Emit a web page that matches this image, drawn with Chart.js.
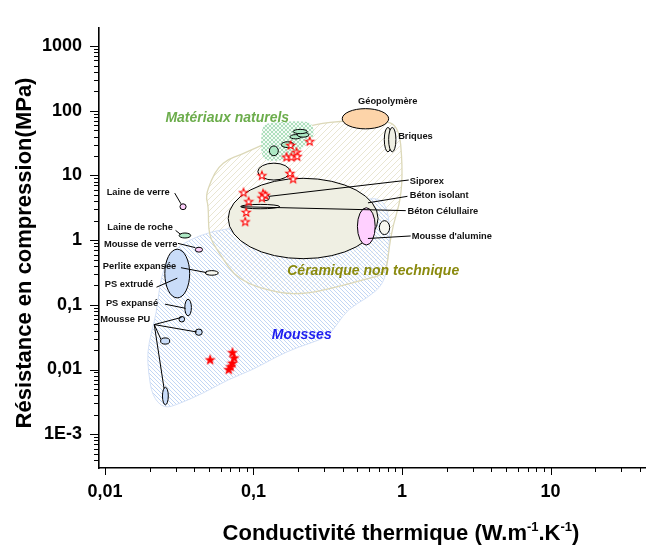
<!DOCTYPE html>
<html>
<head>
<meta charset="utf-8">
<script src="https://cdn.jsdelivr.net/npm/chart.js@4.4.0/dist/chart.umd.min.js"></script>
<style>
  html, body { margin: 0; padding: 0; background: #fff; }
</style>
</head>
<body>
<canvas id="ashby" width="653" height="545"></canvas>
<script>
// Axis ranges and tick labels
const xRange = [0.00912, 43.5];
const yRange = [0.00031, 1920];
const xMajor = [0.01, 0.1, 1, 10];
const xMajorLabels = ['0,01', '0,1', '1', '10'];
const yMajor = [0.001, 0.01, 0.1, 1, 10, 100, 1000];
const yMajorLabels = ['1E-3', '0,01', '0,1', '1', '10', '100', '1000'];

// Material families: conductivity (W/m.K) / strength (MPa) outlines
const ceramicK = [0.112, 0.0825, 0.0676, 0.058, 0.0521, 0.0476, 0.0498, 0.0498, 0.058, 0.0788, 0.152, 0.23, 0.363, 0.575, 0.78, 0.818, 0.869, 0.982, 1.01, 0.952, 0.67, 0.423, 0.256, 0.197, 0.157];
const ceramicS = [28.9, 21.1, 17.8, 13.5, 8.58, 4.76, 3.37, 1.19, 0.66, 0.233, 0.149, 0.149, 0.189, 0.25, 0.297, 0.758, 1.68, 4.29, 13.5, 64.2, 68.8, 71.2, 62.0, 50.3, 40.9];
const foamK = [0.025, 0.0208, 0.0196, 0.0193, 0.0205, 0.0222, 0.0232, 0.025, 0.0292, 0.0367, 0.0521, 0.0788, 0.197, 0.423, 0.593, 0.723, 0.805, 0.83, 0.805, 0.757, 0.575, 0.437, 0.363, 0.312, 0.197, 0.145, 0.0991, 0.0676, 0.0461, 0.0315];
const foamS = [0.00248, 0.0039, 0.00927, 0.0185, 0.0371, 0.0742, 0.177, 0.392, 0.707, 1.0, 1.37, 1.57, 2.0, 3.37, 4.44, 4.29, 2.83, 1.19, 0.5, 0.21, 0.125, 0.0883, 0.049, 0.0312, 0.022, 0.0161, 0.00993, 0.00702, 0.00432, 0.00295];
const naturalK = [0.121, 0.169, 0.23, 0.252, 0.256, 0.23, 0.191, 0.164, 0.125, 0.114, 0.112, 0.114];
const naturalS = [64.2, 68.8, 68.8, 59.9, 40.9, 29.9, 21.9, 17.2, 16.6, 19.1, 32.1, 53.9];

// Individual materials: property ranges
const matNames = ['Géopolymère', 'Briques', 'Briques', 'Béton isolant', 'Béton', "Mousse d'alumine", 'Céramique', 'Béton Célullaire', 'Siporex',
  'Bois', 'Bois', 'Bois', 'Bois', 'Bois',
  'Laine de verre', 'Laine de roche', 'Mousse de verre', 'PS extrudé', 'Perlite expansée', 'PS expansé',
  'Mousse PU', 'Mousse PU', 'Mousse PU', 'Mousse PU'];
const kMin = [0.396, 0.760, 0.813, 0.0676, 0.107, 0.501, 0.704, 0.082, 0.1154, 0.128, 0.154, 0.176, 0.197, 0.185, 0.032, 0.0316, 0.0406, 0.0253, 0.0473, 0.0345, 0.0315, 0.0406, 0.0237, 0.0244];
const kMax = [0.813, 0.851, 0.910, 0.690, 0.176, 0.660, 0.826, 0.150, 0.128, 0.147, 0.187, 0.210, 0.236, 0.230, 0.0352, 0.0378, 0.0454, 0.0372, 0.058, 0.0382, 0.0344, 0.0452, 0.0273, 0.0267];
const sMin = [52.6, 23.2, 23.2, 0.517, 8.5, 0.841, 1.22, 3.06, 4.10, 20.2, 27.0, 36.8, 39.1, 44.3, 2.96, 1.08, 0.653, 0.128, 0.287, 0.0676, 0.0543, 0.0338, 0.0247, 0.00285];
const sMax = [108, 55.3, 55.3, 9.04, 15.5, 3.17, 2.0, 3.57, 5.05, 28.6, 33.2, 42.8, 46.5, 51.6, 3.65, 1.29, 0.776, 0.724, 0.338, 0.122, 0.0662, 0.0422, 0.0308, 0.00532];

// Measured samples
const sampleK = [0.178, 0.239, 0.195, 0.167, 0.180, 0.197, 0.114, 0.176, 0.185, 0.0857, 0.116, 0.120, 0.114, 0.0928, 0.0894, 0.088];
const sampleS = [29.6, 34.0, 23.2, 19.5, 19.5, 19.9, 10.1, 10.9, 8.95, 5.5, 5.28, 5.01, 4.55, 4.0, 2.73, 1.95];
const foamSampleK = [0.0511, 0.0722, 0.0741, 0.0722, 0.0702, 0.0681];
const foamSampleS = [0.0143, 0.0185, 0.0153, 0.0127, 0.0112, 0.0101];

const FONT = '"Liberation Sans", Arial, Helvetica, sans-serif';

const cream = '#efefe3', blue = '#c9dcf8', pink = '#fdd0fb', green = '#ade8c4', pale = '#f7f7f0';
const matFill = ['#fdd4a9', cream, cream, cream, cream, '#ffd0ff', pale, pale, pale,
  green, green, green, green, green,
  pink, green, pink, blue, pale, blue, blue, blue, blue, blue];

// callouts: [text, k, s, align]
const callouts = [
  ['Laine de verre', 0.0273, 5.53, 'right'],
  ['Laine de roche', 0.0287, 1.586, 'right'],
  ['Mousse de verre', 0.0307, 0.87, 'right'],
  ['Perlite expansée', 0.0302, 0.396, 'right'],
  ['PS extrudé', 0.0212, 0.205, 'right'],
  ['PS expansé', 0.0228, 0.105, 'right'],
  ['Mousse PU', 0.0202, 0.0588, 'right'],
  ['Géopolymère', 0.801, 139, 'center'],
  ['Briques', 0.942, 39.5, 'left'],
  ['Siporex', 1.127, 8.01, 'left'],
  ['Béton isolant', 1.127, 4.98, 'left'],
  ['Béton Célullaire', 1.088, 2.763, 'left'],
  ["Mousse d'alumine", 1.162, 1.161, 'left']
];
const leaders = [
  [0.0295, 5.34, 0.0325, 3.645],
  [0.0299, 1.415, 0.0323, 1.231],
  [0.0310, 0.892, 0.0406, 0.766],
  [0.0325, 0.375, 0.0483, 0.315],
  [0.02225, 0.1873, 0.0307, 0.2586],
  [0.0254, 0.1024, 0.0349, 0.0883],
  [0.02148, 0.04945, 0.0328, 0.0639],
  [0.02148, 0.04945, 0.0416, 0.0380],
  [0.02148, 0.04945, 0.0238, 0.0294],
  [0.02148, 0.04945, 0.0250, 0.00509],
  [0.1279, 4.76, 1.110, 8.5],
  [0.590, 3.775, 1.088, 4.76],
  [0.0829, 3.287, 1.06, 2.86],
  [0.590, 1.061, 1.144, 1.161]
];
const familyTitles = [
  ['Matériaux naturels', 0.0666, 76.3, '#6cad4c'],
  ['Céramique non technique', 0.64, 0.33, '#8a8a0e'],
  ['Mousses', 0.2113, 0.0334, '#1e1ef0']
];

function logTicks(lo, hi) {
  const out = [];
  for (let e = Math.floor(Math.log10(lo)); e <= Math.ceil(Math.log10(hi)); e++) {
    for (let m = 1; m < 10; m++) {
      const v = m * Math.pow(10, e);
      if (v >= lo && v <= hi) out.push(v);
    }
  }
  return out;
}
const isDecade = v => Math.abs(Math.log10(v) - Math.round(Math.log10(v))) < 1e-6;
function labelFor(v, majors, labels) {
  const i = majors.findIndex(m => Math.abs(Math.log10(m) - Math.log10(v)) < 1e-6);
  return i < 0 ? '' : labels[i];
}

function makeStar(fill, stroke) {
  const c = document.createElement('canvas');
  c.width = 12; c.height = 12;
  const g = c.getContext('2d');
  g.beginPath();
  for (let i = 0; i < 10; i++) {
    const r = i % 2 ? 1.8 : 4.3;
    const a = -Math.PI / 2 + i * Math.PI / 5;
    const px = 6 + r * Math.cos(a), py = 6.5 + r * Math.sin(a);
    if (i) g.lineTo(px, py); else g.moveTo(px, py);
  }
  g.closePath();
  g.fillStyle = fill; g.fill();
  g.strokeStyle = stroke; g.lineWidth = 1.1; g.stroke();
  return c;
}

function hatch(size, color, dirs, bg) {
  const c = document.createElement('canvas');
  c.width = c.height = size;
  const g = c.getContext('2d');
  if (bg) { g.fillStyle = bg; g.fillRect(0, 0, size, size); }
  g.strokeStyle = color; g.lineWidth = 1;
  g.beginPath();
  dirs.forEach(d => {
    if (d === '/') {
      g.moveTo(-1, size + 1); g.lineTo(size + 1, -1);
      g.moveTo(-1, 1); g.lineTo(1, -1);
      g.moveTo(size - 1, size + 1); g.lineTo(size + 1, size - 1);
    } else {
      g.moveTo(-1, -1); g.lineTo(size + 1, size + 1);
      g.moveTo(size - 1, -1); g.lineTo(size + 1, 1);
      g.moveTo(-1, size - 1); g.lineTo(1, size + 1);
    }
  });
  g.stroke();
  return c;
}

// smooth closed outline through the points (quadratic through midpoints)
function blobPath(ctx, chart, ks, ss) {
  const xs = chart.scales.x, ys = chart.scales.y;
  const pts = ks.map((k, i) => [xs.getPixelForValue(k), ys.getPixelForValue(ss[i])]);
  const n = pts.length;
  const mid = (a, b) => [(a[0] + b[0]) / 2, (a[1] + b[1]) / 2];
  ctx.beginPath();
  const start = mid(pts[n - 1], pts[0]);
  ctx.moveTo(start[0], start[1]);
  for (let i = 0; i < n; i++) {
    const m = mid(pts[i], pts[(i + 1) % n]);
    ctx.quadraticCurveTo(pts[i][0], pts[i][1], m[0], m[1]);
  }
  ctx.closePath();
}

const ashbyLayer = {
  id: 'ashbyLayer',
  beforeDatasetsDraw(chart) {
    const ctx = chart.ctx, xs = chart.scales.x, ys = chart.scales.y;
    const a = chart.chartArea;
    ctx.save();
    ctx.beginPath();
    ctx.rect(a.left, a.top, a.right - a.left, a.bottom - a.top);
    ctx.clip();

    // family regions
    blobPath(ctx, chart, ceramicK, ceramicS);
    ctx.fillStyle = ctx.createPattern(hatch(6, '#e9e6d2', ['/']), 'repeat');
    ctx.fill();
    blobPath(ctx, chart, foamK, foamS);
    ctx.fillStyle = 'rgba(255,255,255,0.6)';
    ctx.fill();
    ctx.fillStyle = ctx.createPattern(hatch(4, '#c2d6f4', ['\\']), 'repeat');
    ctx.fill();
    ctx.strokeStyle = '#d3e0f6'; ctx.lineWidth = 1; ctx.stroke();
    blobPath(ctx, chart, ceramicK, ceramicS);
    ctx.strokeStyle = '#dcd8b8'; ctx.lineWidth = 1.3; ctx.stroke();
    blobPath(ctx, chart, naturalK, naturalS);
    ctx.fillStyle = ctx.createPattern(hatch(4, '#addfbd', ['/', '\\'], '#f4fbf6'), 'repeat');
    ctx.fill();

    // materials
    ctx.lineWidth = 1;
    ctx.strokeStyle = '#000';
    kMin.forEach((k, i) => {
      const x0 = xs.getPixelForValue(k), x1 = xs.getPixelForValue(kMax[i]);
      const y0 = ys.getPixelForValue(sMin[i]), y1 = ys.getPixelForValue(sMax[i]);
      ctx.beginPath();
      ctx.ellipse((x0 + x1) / 2, (y0 + y1) / 2, Math.abs(x1 - x0) / 2, Math.abs(y1 - y0) / 2, 0, 0, Math.PI * 2);
      ctx.fillStyle = matFill[i];
      ctx.fill();
      ctx.stroke();
    });

    // leader lines
    ctx.beginPath();
    leaders.forEach(l => {
      ctx.moveTo(xs.getPixelForValue(l[0]), ys.getPixelForValue(l[1]));
      ctx.lineTo(xs.getPixelForValue(l[2]), ys.getPixelForValue(l[3]));
    });
    ctx.stroke();

    // labels
    ctx.fillStyle = '#111';
    ctx.font = 'bold 9.3px ' + FONT;
    ctx.textBaseline = 'middle';
    callouts.forEach(c => {
      ctx.textAlign = c[3];
      ctx.fillText(c[0], xs.getPixelForValue(c[1]), ys.getPixelForValue(c[2]));
    });
    ctx.font = 'italic bold 14px ' + FONT;
    ctx.textAlign = 'center';
    familyTitles.forEach(t => {
      ctx.fillStyle = t[3];
      ctx.fillText(t[0], xs.getPixelForValue(t[1]), ys.getPixelForValue(t[2]));
    });
    ctx.restore();
  },
  afterDraw(chart) {
    const ctx = chart.ctx, xs = chart.scales.x, ys = chart.scales.y;
    ctx.save();
    ctx.strokeStyle = '#000';
    ctx.lineWidth = 1;
    ctx.beginPath();
    ys.ticks.forEach(t => {
      const p = Math.round(ys.getPixelForValue(t.value)) + 0.5;
      ctx.moveTo(ys.right, p);
      ctx.lineTo(ys.right - (isDecade(t.value) ? 9 : 5), p);
    });
    xs.ticks.forEach(t => {
      const p = Math.round(xs.getPixelForValue(t.value)) + 0.5;
      ctx.moveTo(p, xs.top);
      ctx.lineTo(p, xs.top + (isDecade(t.value) ? 7 : 4));
    });
    ctx.stroke();

    // axis titles
    ctx.fillStyle = '#000';
    ctx.textBaseline = 'alphabetic';
    ctx.save();
    ctx.translate(31, 253);
    ctx.rotate(-Math.PI / 2);
    ctx.font = 'bold 22px ' + FONT;
    ctx.textAlign = 'center';
    ctx.fillText('Résistance en compression(MPa)', 0, 0);
    ctx.restore();

    const parts = [['Conductivité thermique (W.m', false], ['-1', true], ['.K', false], ['-1', true], [')', false]];
    const big = 'bold 22px ' + FONT, small = 'bold 13px ' + FONT;
    let w = 0;
    parts.forEach(p => { ctx.font = p[1] ? small : big; w += ctx.measureText(p[0]).width; });
    let x = 401 - w / 2;
    ctx.textAlign = 'left';
    parts.forEach(p => {
      ctx.font = p[1] ? small : big;
      ctx.fillText(p[0], x, p[1] ? 531 : 540);
      x += ctx.measureText(p[0]).width;
    });
    ctx.restore();
  }
};

const tickFont = { family: FONT, size: 18, weight: 'bold' };

new Chart(document.getElementById('ashby'), {
  type: 'scatter',
  data: {
    datasets: [
      {
        data: sampleK.map((k, i) => ({ x: k, y: sampleS[i] })),
        pointStyle: makeStar('#fff', '#ff0000'),
        pointRadius: 4
      },
      {
        data: foamSampleK.map((k, i) => ({ x: k, y: foamSampleS[i] })),
        pointStyle: makeStar('#ff0000', '#ff0000'),
        pointRadius: 4
      }
    ]
  },
  options: {
    responsive: false,
    animation: false,
    layout: { padding: { top: 17, left: 0, right: 0, bottom: 0 } },
    plugins: { legend: { display: false }, tooltip: { enabled: false } },
    scales: {
      x: {
        type: 'logarithmic',
        position: 'bottom',
        min: xRange[0],
        max: xRange[1],
        afterBuildTicks: s => { s.ticks = logTicks(xRange[0], xRange[1]).map(v => ({ value: v })); },
        afterFit: s => { s.height = 77; },
        ticks: {
          autoSkip: false, maxRotation: 0, padding: 13, color: '#000', font: tickFont,
          callback: v => labelFor(v, xMajor, xMajorLabels)
        },
        grid: { display: true, drawOnChartArea: false, drawTicks: false },
        border: { display: true, color: '#000', width: 1.6 }
      },
      y: {
        type: 'logarithmic',
        position: 'left',
        min: yRange[0],
        max: yRange[1],
        afterBuildTicks: s => { s.ticks = logTicks(yRange[0], yRange[1]).map(v => ({ value: v })); },
        afterFit: s => { s.width = 99; },
        ticks: {
          autoSkip: false, padding: 17, color: '#000', font: tickFont,
          callback: v => labelFor(v, yMajor, yMajorLabels)
        },
        grid: { display: true, drawOnChartArea: false, drawTicks: false },
        border: { display: true, color: '#000', width: 1.6 }
      }
    }
  },
  plugins: [ashbyLayer]
});
</script>
</body>
</html>
